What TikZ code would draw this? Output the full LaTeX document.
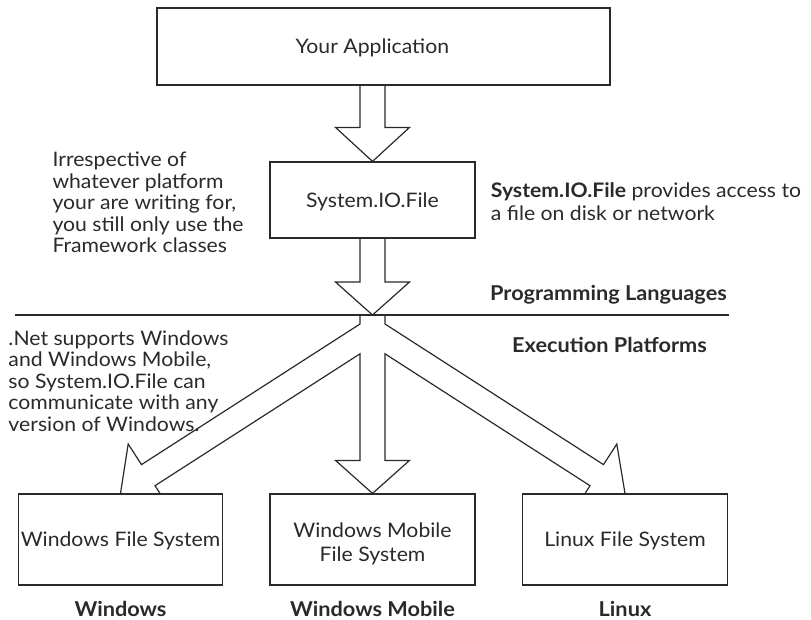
\documentclass[tikz,border=0pt]{standalone}
\usepackage{fontspec}
\setmainfont{Lato}[FakeStretch=1.06]
\usetikzlibrary{calc}
\definecolor{ink}{HTML}{2A2A2A}
\pgfdeclarelayer{bg}
\pgfsetlayers{bg,main}
\begin{document}
\begin{tikzpicture}[x=1pt,y=-1pt,
  box/.style={draw=ink, line width=1.2pt, fill=white, inner sep=0pt, align=center,
    font=\fontsize{20}{24}\selectfont, text=ink},
  one/.style={text height=14.3pt, text depth=0pt},
  note/.style={inner sep=0pt, align=left, anchor=north west,
    font=\fontsize{20}{21.5}\selectfont, text=ink},
  lbl/.style={inner sep=0pt, anchor=base, font=\fontsize{20.5}{22}\selectfont\bfseries, text=ink},
  blk/.style={draw=ink, line width=1.2pt, fill=white, line join=miter},
  sep/.style={draw=ink, line width=1.2pt}]
\useasboundingbox (0,0) rectangle (811,619);

\node[box, one, minimum width=453pt, minimum height=77pt] (app) at (383.5,46.5) {Your Application\hspace*{22.4pt}};
\node[box, one, minimum width=205pt, minimum height=76pt] (sys) at (372.5,200) {System.IO.File};
\node[box, one, minimum width=204.4pt, minimum height=91pt] (wfs) at (120.5,539.5) {Windows File System};
\node[box, minimum width=205pt, minimum height=91pt] (wmfs) at (372.5,539.5) {\rule{0pt}{22.6pt}Windows Mobile\\File System};
\node[box, one, minimum width=204.6pt, minimum height=91pt] (lfs) at (625,539.5) {Linux File System};

\coordinate (sepL) at (15,315);
\coordinate (sepR) at (729,315);
\coordinate (hub) at (372.5,315);
\draw[sep] (sepL) -- (sepR);

\begin{pgfonlayer}{bg}
\draw[blk] ($(app.south -| sys.north)+(-12.5,0)$) -- ($(sys.north)+(-12.5,-34)$)
  -- ($(sys.north)+(-37,-34)$) -- (sys.north) -- ($(sys.north)+(37,-34)$)
  -- ($(sys.north)+(12.5,-34)$) -- ($(app.south -| sys.north)+(12.5,0)$);
\draw[blk] ($(sys.south)+(-12.5,0)$) -- ($(hub)+(-12.5,-33)$)
  -- ($(hub)+(-37,-33)$) -- (hub) -- ($(hub)+(37,-33)$)
  -- ($(hub)+(12.5,-33)$) -- ($(sys.south)+(12.5,0)$);
\draw[blk] ($(hub)+(-12.5,0)$) -- ($(hub)+(12.5,0)$) -- ($(hub)+(12.5,9)$)
  -- (603.5,464.6) -- (616.8,444.0) -- (lfs.north) -- (576.7,506.3) -- (590,485.7)
  -- ($(hub)+(12.5,38.8)$) -- ($(wmfs.north)+(12.5,-33)$) -- ($(wmfs.north)+(37,-33)$)
  -- (wmfs.north) -- ($(wmfs.north)+(-37,-33)$) -- ($(wmfs.north)+(-12.5,-33)$)
  -- ($(hub)+(-12.5,38.8)$) -- (155,485.7) -- (168.3,506.3) -- (wfs.north)
  -- (128.2,444.0) -- (141.5,464.6) -- ($(hub)+(-12.5,9)$) -- cycle;
\end{pgfonlayer}

\node[note] (irr) at (52.3,152) {Irrespective of\\whatever platform\\your are writing for,\\you still only use the\\Framework classes};
\node[note] (net) at (8.3,330.5) {.Net supports Windows\\and Windows Mobile,\\so System.IO.File can\\communicate with any\\version of Windows.};
\node[note, font=\fontsize{20}{22.5}\selectfont] (acc) at (490.7,182.7) {\textbf{System.IO.File} provides access to\\a file on disk or network};
\node[lbl] (pl) at (608.5,300) {Programming Languages};
\node[lbl] (ep) at (609.5,352.5) {Execution Platforms};
\node[lbl] (lw) at (120.5,616) {Windows};
\node[lbl] (lwm) at (372.5,616) {Windows Mobile};
\node[lbl] (ll) at (625,616) {Linux};
\end{tikzpicture}
\end{document}
